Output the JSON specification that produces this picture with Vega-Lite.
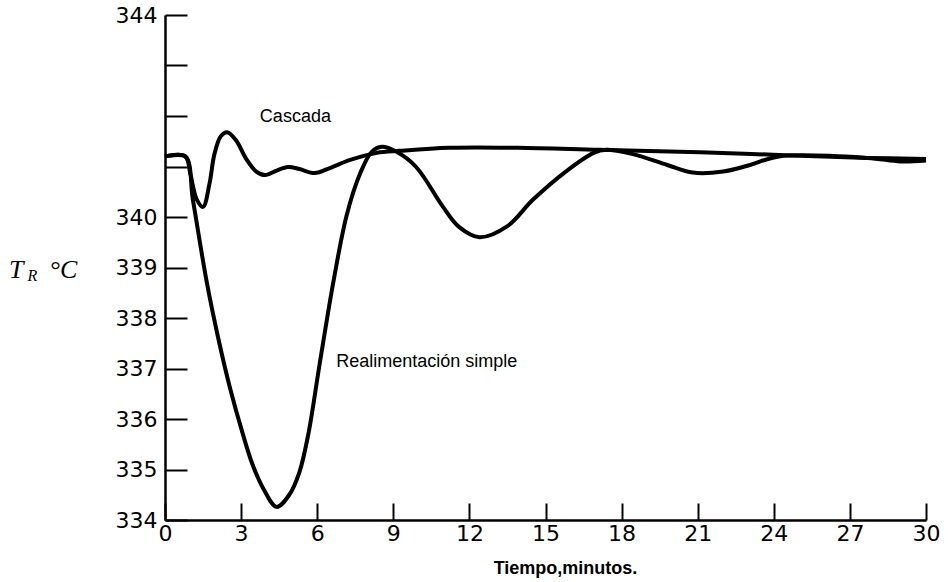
{
  "$schema": "https://vega.github.io/schema/vega-lite/v6.json",
  "width": 761,
  "height": 505,
  "autosize": {"type": "none"},
  "padding": {"left": 165, "top": 15, "right": 22, "bottom": 62},
  "background": "white",
  "config": {"view": {"stroke": null}},
  "datasets": {
    "curves": [
      {"serie": "Cascada", "t": 0, "temp": 341.2},
      {"serie": "Cascada", "t": 0.8, "temp": 341.2},
      {"serie": "Cascada", "t": 1.0, "temp": 340.85},
      {"serie": "Cascada", "t": 1.25, "temp": 340.35},
      {"serie": "Cascada", "t": 1.5, "temp": 340.2},
      {"serie": "Cascada", "t": 1.75, "temp": 340.65},
      {"serie": "Cascada", "t": 1.95, "temp": 341.25},
      {"serie": "Cascada", "t": 2.2, "temp": 341.6},
      {"serie": "Cascada", "t": 2.45, "temp": 341.68},
      {"serie": "Cascada", "t": 2.8, "temp": 341.52},
      {"serie": "Cascada", "t": 3.2, "temp": 341.15},
      {"serie": "Cascada", "t": 3.6, "temp": 340.9},
      {"serie": "Cascada", "t": 3.95, "temp": 340.83},
      {"serie": "Cascada", "t": 4.4, "temp": 340.92},
      {"serie": "Cascada", "t": 4.85, "temp": 340.99},
      {"serie": "Cascada", "t": 5.3, "temp": 340.95},
      {"serie": "Cascada", "t": 5.9, "temp": 340.87},
      {"serie": "Cascada", "t": 6.5, "temp": 340.97},
      {"serie": "Cascada", "t": 7.3, "temp": 341.13},
      {"serie": "Cascada", "t": 8.35, "temp": 341.27},
      {"serie": "Cascada", "t": 9.26, "temp": 341.31},
      {"serie": "Cascada", "t": 11.2, "temp": 341.37},
      {"serie": "Cascada", "t": 13.9, "temp": 341.37},
      {"serie": "Cascada", "t": 17.1, "temp": 341.33},
      {"serie": "Cascada", "t": 21.1, "temp": 341.28},
      {"serie": "Cascada", "t": 24.2, "temp": 341.23},
      {"serie": "Cascada", "t": 27.7, "temp": 341.17},
      {"serie": "Cascada", "t": 30, "temp": 341.15},
      {"serie": "Realimentación simple", "t": 0, "temp": 341.2},
      {"serie": "Realimentación simple", "t": 0.8, "temp": 341.2},
      {"serie": "Realimentación simple", "t": 1.1, "temp": 340.34},
      {"serie": "Realimentación simple", "t": 1.65, "temp": 338.7},
      {"serie": "Realimentación simple", "t": 2.1, "temp": 337.6},
      {"serie": "Realimentación simple", "t": 2.56, "temp": 336.62},
      {"serie": "Realimentación simple", "t": 3.07, "temp": 335.7},
      {"serie": "Realimentación simple", "t": 3.45, "temp": 335.1},
      {"serie": "Realimentación simple", "t": 3.9, "temp": 334.6},
      {"serie": "Realimentación simple", "t": 4.4, "temp": 334.26},
      {"serie": "Realimentación simple", "t": 4.9, "temp": 334.5},
      {"serie": "Realimentación simple", "t": 5.3, "temp": 334.95},
      {"serie": "Realimentación simple", "t": 5.65, "temp": 335.7},
      {"serie": "Realimentación simple", "t": 6.1, "temp": 337.1},
      {"serie": "Realimentación simple", "t": 6.65, "temp": 338.75},
      {"serie": "Realimentación simple", "t": 7.17, "temp": 340.05},
      {"serie": "Realimentación simple", "t": 7.7, "temp": 340.87},
      {"serie": "Realimentación simple", "t": 8.15, "temp": 341.29},
      {"serie": "Realimentación simple", "t": 8.55, "temp": 341.39},
      {"serie": "Realimentación simple", "t": 9.13, "temp": 341.29},
      {"serie": "Realimentación simple", "t": 9.9, "temp": 340.99},
      {"serie": "Realimentación simple", "t": 10.96, "temp": 340.2},
      {"serie": "Realimentación simple", "t": 11.6, "temp": 339.8},
      {"serie": "Realimentación simple", "t": 12.4, "temp": 339.6},
      {"serie": "Realimentación simple", "t": 13.5, "temp": 339.82},
      {"serie": "Realimentación simple", "t": 14.5, "temp": 340.34},
      {"serie": "Realimentación simple", "t": 15.8, "temp": 340.9},
      {"serie": "Realimentación simple", "t": 16.9, "temp": 341.27},
      {"serie": "Realimentación simple", "t": 17.4, "temp": 341.33},
      {"serie": "Realimentación simple", "t": 18.4, "temp": 341.25},
      {"serie": "Realimentación simple", "t": 19.8, "temp": 341.03},
      {"serie": "Realimentación simple", "t": 20.8, "temp": 340.88},
      {"serie": "Realimentación simple", "t": 22.0, "temp": 340.9},
      {"serie": "Realimentación simple", "t": 23.06, "temp": 341.03},
      {"serie": "Realimentación simple", "t": 24.2, "temp": 341.2},
      {"serie": "Realimentación simple", "t": 27.7, "temp": 341.17},
      {"serie": "Realimentación simple", "t": 29, "temp": 341.1},
      {"serie": "Realimentación simple", "t": 30, "temp": 341.12}
    ],
    "labels": [
      {"t": 3.74, "temp": 341.98, "label": "Cascada"},
      {"t": 6.75, "temp": 337.13, "label": "Realimentación simple"}
    ],
    "ytitle": [
      {"t": -6.15, "temp": 338.96, "part": "T"},
      {"t": -4.55, "temp": 338.96, "part": "°C"}
    ],
    "ysub": [
      {"t": -5.42, "temp": 338.84, "part": "R"}
    ]
  },
  "layer": [
    {
      "data": {"name": "curves"},
      "mark": {"type": "line", "interpolate": "catmull-rom", "strokeWidth": 4, "color": "black", "clip": false},
      "encoding": {
        "x": {
          "field": "t", "type": "quantitative",
          "scale": {"domain": [0, 30], "nice": false, "zero": false},
          "axis": {
            "values": [0, 3, 6, 9, 12, 15, 18, 21, 24, 27, 30],
            "grid": false,
            "domainColor": "black", "domainWidth": 2.5,
            "tickColor": "black", "tickWidth": 2, "tickSize": -17,
            "labelPadding": 20,
            "labelFont": "DejaVu Sans", "labelFontSize": 22, "labelColor": "black",
            "labelFlush": false,
            "title": "Tiempo,minutos.",
            "titleFont": "Liberation Sans", "titleFontSize": 18, "titleFontWeight": "bold",
            "titleColor": "black",
            "titleX": 400, "titleY": 53, "titleBaseline": "alphabetic"
          }
        },
        "y": {
          "field": "temp", "type": "quantitative",
          "scale": {"domain": [334, 344], "nice": false, "zero": false},
          "axis": {
            "values": [334, 335, 336, 337, 338, 339, 340, 341, 342, 343, 344],
            "labelExpr": "datum.value > 340 && datum.value < 344 ? '' : datum.label",
            "grid": false,
            "domainColor": "black", "domainWidth": 2.5,
            "tickColor": "black", "tickWidth": 2, "tickSize": -22,
            "labelPadding": 30,
            "labelFont": "DejaVu Sans", "labelFontSize": 22, "labelColor": "black",
            "labelFlush": false,
            "title": null
          }
        },
        "detail": {"field": "serie", "type": "nominal"}
      }
    },
    {
      "data": {"name": "labels"},
      "mark": {"type": "text", "align": "left", "baseline": "middle", "font": "Liberation Sans", "fontSize": 18, "color": "black"},
      "encoding": {
        "x": {"field": "t", "type": "quantitative"},
        "y": {"field": "temp", "type": "quantitative"},
        "text": {"field": "label"}
      }
    },
    {
      "data": {"name": "ytitle"},
      "mark": {"type": "text", "align": "left", "baseline": "middle", "font": "Liberation Serif", "fontStyle": "italic", "fontSize": 26, "color": "black", "clip": false},
      "encoding": {
        "x": {"field": "t", "type": "quantitative"},
        "y": {"field": "temp", "type": "quantitative"},
        "text": {"field": "part"}
      }
    },
    {
      "data": {"name": "ysub"},
      "mark": {"type": "text", "align": "left", "baseline": "middle", "font": "Liberation Serif", "fontStyle": "italic", "fontSize": 16, "color": "black", "clip": false},
      "encoding": {
        "x": {"field": "t", "type": "quantitative"},
        "y": {"field": "temp", "type": "quantitative"},
        "text": {"field": "part"}
      }
    }
  ]
}
